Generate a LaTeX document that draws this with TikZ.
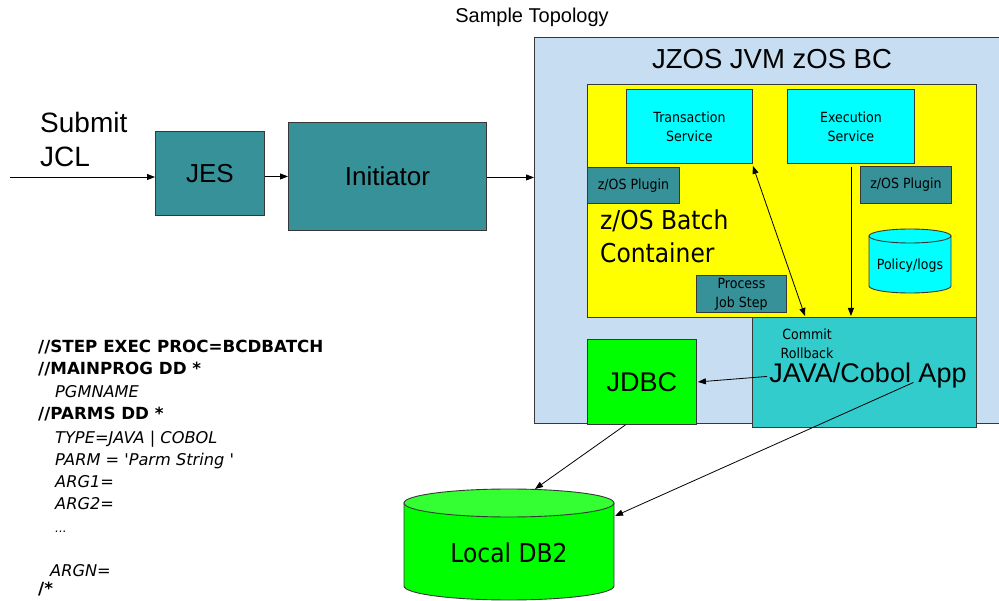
\documentclass[tikz,border=0pt]{standalone}
\usepackage{fontspec}
\setmainfont{Liberation Sans}
\newfontfamily\tah[FakeStretch=0.9]{DejaVu Sans}
\newfontfamily\verd{DejaVu Sans}
\usetikzlibrary{arrows.meta,calc}
\definecolor{tealbox}{RGB}{55,145,152}
\definecolor{bcblue}{RGB}{198,221,242}
\definecolor{javac}{RGB}{51,204,204}
\definecolor{greenc}{RGB}{0,255,0}
\definecolor{greenl}{RGB}{51,255,51}
\definecolor{cyanc}{RGB}{0,255,255}
\definecolor{yellowc}{RGB}{255,255,0}
\definecolor{edgec}{RGB}{55,55,55}
\newcommand\fsz[2]{\fontsize{#1}{#2}\selectfont}
\begin{document}
\begin{tikzpicture}[x=1pt,y=-1pt,
  box/.style={draw=edgec,line width=0.9pt,inner sep=0pt,anchor=north west},
  arr/.style={line width=0.8pt,-{Triangle[length=8pt,width=6pt]}},
  darr/.style={line width=0.8pt,{Triangle[length=8pt,width=6pt]}-{Triangle[length=8pt,width=6pt]}},
  small/.style={font=\tah\fsz{14}{19},align=center},
  lbl/.style={anchor=base west,inner sep=0pt},
  jclb/.style={lbl,font=\verd\bfseries\fsz{16.7}{20}},
  jcli/.style={lbl,font=\verd\itshape\fsz{16.2}{20}}]
\useasboundingbox (0,0) rectangle (999,601);

% title
\node[font=\fsz{20}{24}] (title) at (532,17) {Sample Topology};

% left chain
\node[lbl,font=\fsz{28}{34}] (sub1) at (40,133) {Submit};
\node[lbl,font=\fsz{28}{34}] (sub2) at (40,167) {JCL};
\node[box,fill=tealbox,minimum width=109pt,minimum height=84pt,font=\fsz{26}{30}] (jes) at (155,131) {JES};
\node[box,fill=tealbox,minimum width=198pt,minimum height=108pt,font=\fsz{26}{30}] (init) at (288,122) {Initiator};

% big BC box
\node[box,fill=bcblue,minimum width=480pt,minimum height=386pt] (bc) at (534,37) {};
\node[font=\fsz{27.5}{32}] (bct) at (772,59) {JZOS JVM zOS BC};

% container
\node[box,fill=yellowc,minimum width=389pt,minimum height=233pt] (cont) at (587,84) {};
\node[box,fill=cyanc,minimum width=126pt,minimum height=74pt,small] (ts) at (626,89) {Transaction\\Service};
\node[box,fill=cyanc,minimum width=127pt,minimum height=74pt,small] (es) at (787,89) {Execution\\Service};
\node[box,fill=tealbox,minimum width=92pt,minimum height=36pt,small] (pl1) at (587,167) {z/OS Plugin};
\node[box,fill=tealbox,minimum width=91pt,minimum height=37pt,small] (pl2) at (860,166) {z/OS Plugin};
\node[lbl,font=\tah\fsz{26}{32}] (bat1) at (600,230) {z/OS Batch};
\node[lbl,font=\tah\fsz{26}{32}] (bat2) at (600,263) {Container};
\node[box,fill=tealbox,minimum width=90pt,minimum height=37pt,small] (pjs) at (696,275) {Process\\Job Step};

% policy cylinder
\draw[draw=edgec,line width=0.9pt,fill=cyanc] (869,236) -- (869,286)
  arc[start angle=180,end angle=360,x radius=41pt,y radius=7pt] -- (951,236) -- cycle;
\draw[draw=edgec,line width=0.9pt,fill=cyanc] (910,236) ellipse[x radius=41pt,y radius=7pt];
\node[small] (pol) at (910,266) {Policy/logs};

% app and jdbc
\node[box,fill=javac,minimum width=224pt,minimum height=110pt] (java) at (752,317) {};
\node[small] (cr) at (807,343.5) {Commit\\Rollback};
\node[anchor=base,inner sep=0pt,font=\fsz{27}{32}] (javat) at (868,383) {JAVA/Cobol App};
\node[box,fill=greenc,minimum width=109pt,minimum height=85pt,font=\fsz{27}{32}] (jdbc) at (587,339) {JDBC};

% Local DB2 cylinder
\draw[draw=edgec,line width=0.9pt,fill=greenc] (404,503) -- (404,586)
  arc[start angle=180,end angle=360,x radius=105pt,y radius=14pt] -- (614,503) -- cycle;
\draw[draw=edgec,line width=0.9pt,fill=greenl] (509,503) ellipse[x radius=105pt,y radius=14pt];
\node[font=\tah\fsz{26}{30}] (db2) at (509,553) {Local DB2};
\coordinate (db2top) at (535,489);
\coordinate (db2r) at (615,516);

% JCL text
\node[jclb] (l1) at (38,353) {//STEP EXEC PROC=BCDBATCH};
\node[jclb] (l2) at (38,375) {//MAINPROG DD *};
\node[jcli] (l3) at (55,397.5) {PGMNAME};
\node[jclb] (l4) at (38,420) {//PARMS DD *};
\node[jcli] (l5) at (55,443) {TYPE=JAVA | COBOL};
\node[jcli] (l6) at (55,465) {PARM = 'Parm String '};
\node[jcli] (l7) at (55,487) {ARG1=};
\node[jcli] (l8) at (55,509) {ARG2=};
\node[jcli,font=\verd\itshape\fsz{12}{14}] (l9) at (55,532) {...};
\node[jcli] (l10) at (50,576) {ARGN=};
\node[jclb] (l11) at (38,594) {/*};

% connectors
\coordinate (src) at (10,177);
\draw[arr] (src) -- (src -| jes.west);
\draw[arr] ($(jes.east)+(0,3)$) -- ($(init.west)+(0,0)$);
\draw[arr] ($(init.east)+(0,1)$) -- ($(init.east -| bc.west)+(0,1)$);
\draw[darr] ($(ts.south east)+(0,2)$) -- ($(java.north west)+(53,-1)$);
\draw[arr] ($(es.south)+(0,3)$) -- ($(es.south |- java.north)+(0,-1)$);
\draw[arr] ($(java.west)+(15,4)$) -- ($(jdbc.east)+(1,0)$);
\draw[arr] ($(jdbc.south)+(-16.5,0)$) -- (db2top);
\draw[arr] ($(java.center)+(49,10)$) -- (db2r);
\end{tikzpicture}
\end{document}
